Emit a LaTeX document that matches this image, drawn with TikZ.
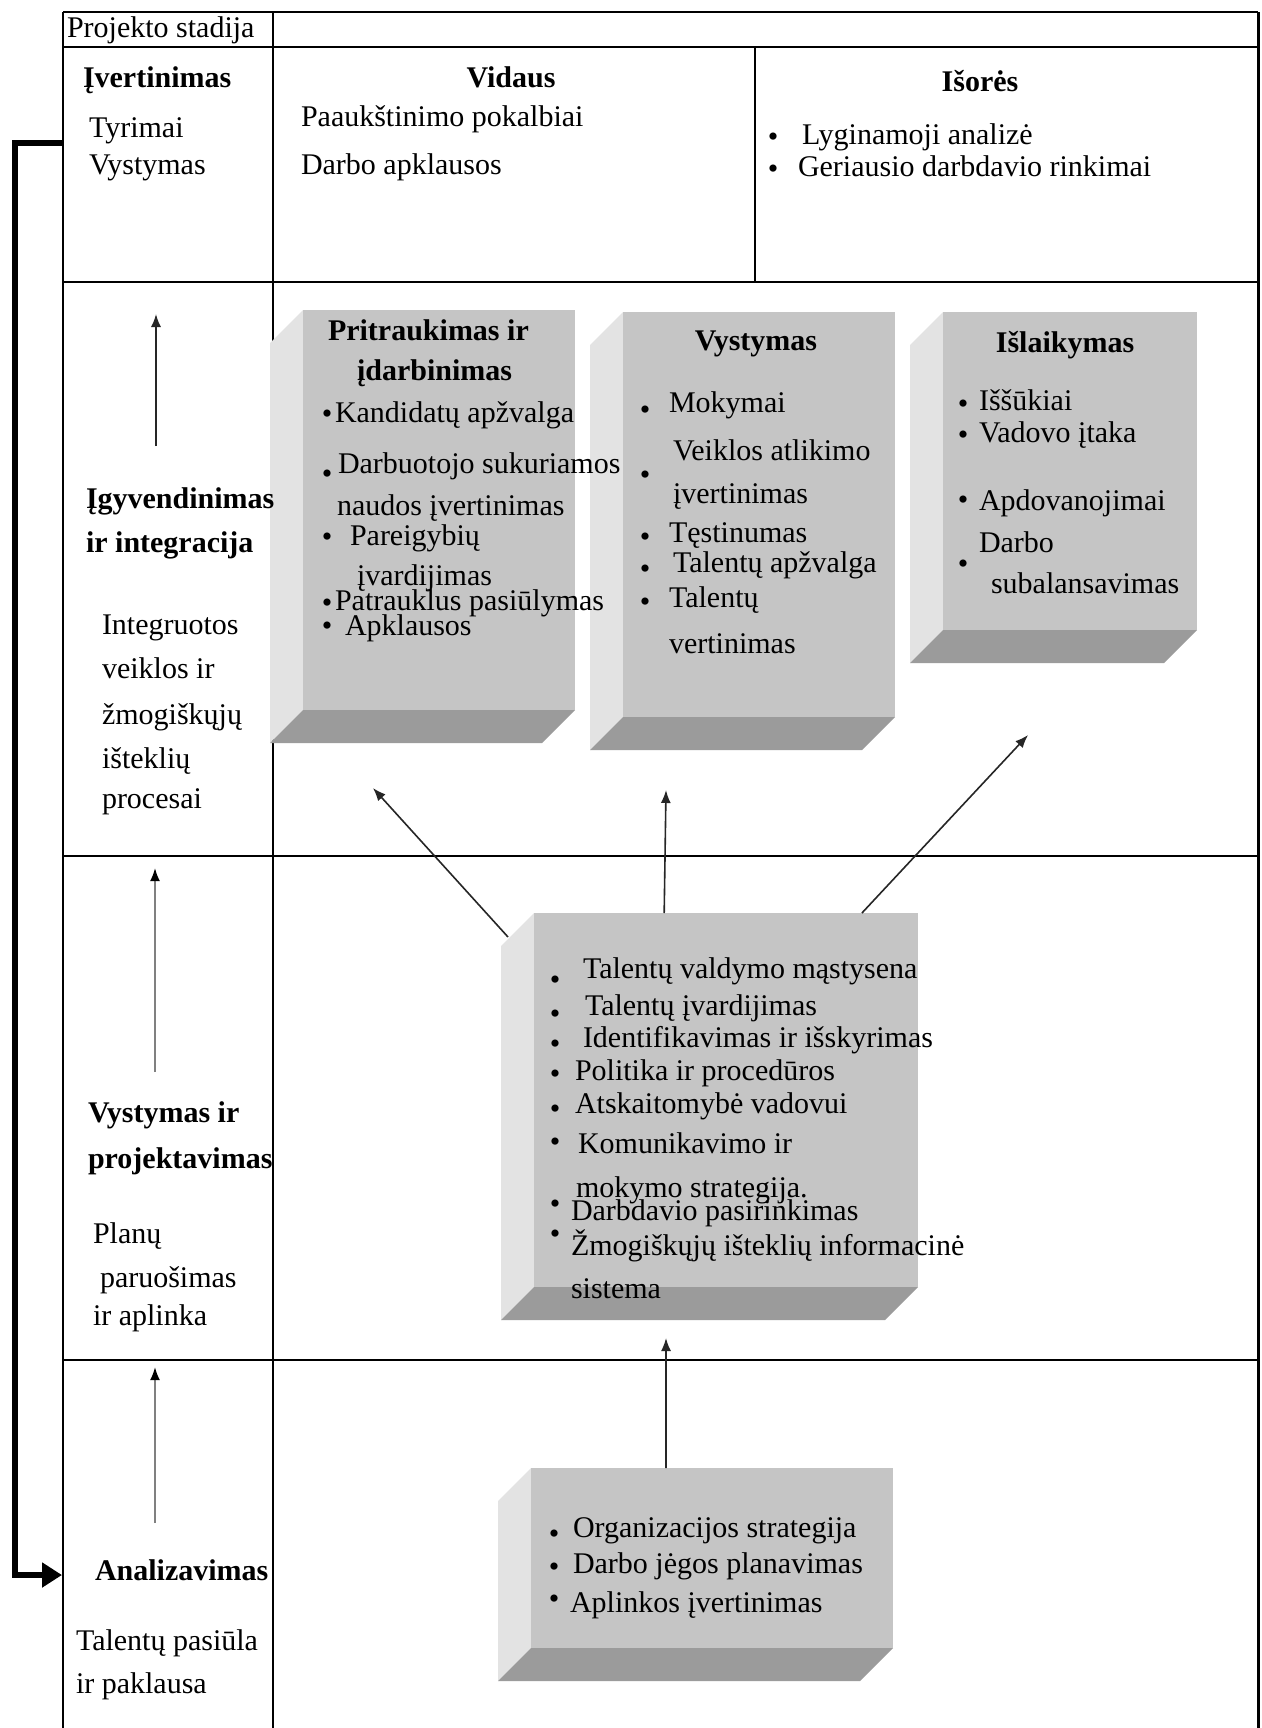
\documentclass[tikz,border=0pt]{standalone}
\usepackage{fontspec}
\setmainfont{Liberation Serif}
\usetikzlibrary{arrows.meta,fit,calc}

\definecolor{facefront}{RGB}{197,197,197}
\definecolor{faceside}{RGB}{227,227,227}
\definecolor{facebottom}{RGB}{155,155,155}
\definecolor{paleshaft}{RGB}{128,128,128}

% Raised block: front face node #1 with corners (#2,#3) and (#4,#5);
% the side and bottom faces are pushed 33 units down and to the left.
\newcommand\raisedblock[5]{%
  \fill[faceside] (#2-33,#3+33) -- (#2,#3) -- (#2,#5) -- (#2-33,#5+33) -- cycle;
  \fill[facebottom] (#2-33,#5+33) -- (#2,#5) -- (#4,#5) -- (#4-33,#5+33) -- cycle;
  \coordinate (#1-nw) at (#2,#3);
  \coordinate (#1-se) at (#4,#5);
  \node[blockface, fit=(#1-nw)(#1-se)] (#1) {};
}

\begin{document}
\begin{tikzpicture}[x=0.5pt,y=-0.5pt,
  every node/.style={inner sep=0pt, outer sep=0pt},
  txt/.style={anchor=base west, font=\fontsize{15}{18}\selectfont},
  bold/.style={anchor=base west, font=\fontsize{15}{18}\selectfont\bfseries},
  boldc/.style={anchor=base, font=\fontsize{15}{18}\selectfont\bfseries},
  bul/.style={anchor=center, yshift=-2.5pt, font=\fontsize{15}{18}\selectfont},
  blockface/.style={fill=facefront, draw=none, inner sep=0pt},
  vrule/.style={line width=1.1pt, black},
  hrule/.style={line width=1.4pt, black},
  arr/.style={line width=0.8pt, black!85, -{Latex[length=6.5pt,width=5pt]}},
  palearr/.style={line width=0.9pt, paleshaft, -{Latex[length=6.5pt,width=5pt,color=black]}},
  looparr/.style={line width=2.6pt, black, line join=miter, -{Triangle[length=10pt,width=12pt]}}
]
\useasboundingbox (0,0) rectangle (1262,1728);
\fill[white] (0,0) rectangle (1262,1728);

% ---- table grid ----
\draw[hrule] (63,12) -- (1258,12);
\draw[hrule] (63,47) -- (1258,47);
\draw[hrule] (63,282) -- (1258,282);
\draw[hrule] (63,856) -- (1258,856);
\draw[hrule] (63,1360) -- (1258,1360);
\draw[vrule] (63,12) -- (63,1728);
\draw[vrule] (273,12) -- (273,1728);
\draw[vrule] (755,47) -- (755,282);
\draw[line width=1.5pt] (1258,12) -- (1258,1728);

% ---- raised blocks ----
\raisedblock{attract}{303}{310}{575}{710}
\raisedblock{develop}{623}{312}{895}{717}
\raisedblock{retain}{943}{312}{1197}{630}
\raisedblock{mindset}{534}{913}{918}{1287}
\raisedblock{strategy}{531}{1468}{893}{1648}

% ---- header row ----
\node[txt] (stage) at (67,38) {Projekto stadija};

% ---- assessment row ----
\node[bold] (assess) at (83,88) {Įvertinimas};
\node[txt] (research) at (89,138) {Tyrimai};
\node[txt] (growth) at (89,175) {Vystymas};
\node[boldc] (inner) at (511,88) {Vidaus};
\node[txt] (promo) at (301,127) {Paaukštinimo pokalbiai};
\node[txt] (survey) at (301,175) {Darbo apklausos};
\node[boldc] (outer) at (980,92) {Išorės};
\node[bul] (bo1) at (773,135) {•};
\node[txt] (bench) at (802,145) {Lyginamoji analizė};
\node[bul] (bo2) at (773,167) {•};
\node[txt] (bestemp) at (798,177) {Geriausio darbdavio rinkimai};

% ---- implementation row ----
\node[bold] (impl1) at (86,508) {Įgyvendinimas};
\node[bold] (impl2) at (86,552) {ir integracija};
\node[txt] (integ1) at (102,634) {Integruotos};
\node[txt] (integ2) at (102,678) {veiklos ir};
\node[txt] (integ3) at (102,724) {žmogiškųjų};
\node[txt] (integ4) at (102,768) {išteklių};
\node[txt] (integ5) at (102,808) {procesai};

% block: attraction
\node[bold] (attr1) at (328,340) {Pritraukimas ir};
\node[bold] (attr2) at (357,380) {įdarbinimas};
\node[bul] (ba1) at (327,412) {•};
\node[txt] (cand) at (335,422) {Kandidatų apžvalga};
\node[bul] (ba2) at (327,472) {•};
\node[txt] (value1) at (338,473) {Darbuotojo sukuriamos};
\node[txt] (value2) at (337,515) {naudos įvertinimas};
\node[bul] (ba3) at (327,535) {•};
\node[txt] (role1) at (350,545) {Pareigybių};
\node[txt] (role2) at (357,585) {įvardijimas};
\node[bul] (ba4) at (327,601) {•};
\node[txt] (offer) at (335,610) {Patrauklus pasiūlymas};
\node[bul] (ba5) at (327,624) {•};
\node[txt] (polls) at (345,635) {Apklausos};

% block: development
\node[boldc] (devhd) at (756,350) {Vystymas};
\node[bul] (bd1) at (645,408) {•};
\node[txt] (train) at (669,412) {Mokymai};
\node[txt] (perf1) at (673,460) {Veiklos atlikimo};
\node[bul] (bd2) at (645,473) {•};
\node[txt] (perf2) at (673,503) {įvertinimas};
\node[bul] (bd3) at (645,535) {•};
\node[txt] (contin) at (669,542) {Tęstinumas};
\node[bul] (bd4) at (645,567) {•};
\node[txt] (talrev) at (673,572) {Talentų apžvalga};
\node[bul] (bd5) at (645,600) {•};
\node[txt] (taleval1) at (669,607) {Talentų};
\node[txt] (taleval2) at (669,653) {vertinimas};

% block: retention
\node[boldc] (rethd) at (1065,352) {Išlaikymas};
\node[bul] (br1) at (963,402) {•};
\node[txt] (chall) at (979,410) {Iššūkiai};
\node[bul] (br2) at (963,433) {•};
\node[txt] (lead) at (979,442) {Vadovo įtaka};
\node[bul] (br3) at (963,498) {•};
\node[txt] (reward) at (979,510) {Apdovanojimai};
\node[txt] (bal1) at (979,552) {Darbo};
\node[bul] (br4) at (963,562) {•};
\node[txt] (bal2) at (991,593) {subalansavimas};

% ---- design row ----
\node[bold] (design1) at (88,1122) {Vystymas ir};
\node[bold] (design2) at (88,1168) {projektavimas};
\node[txt] (plan1) at (93,1243) {Planų};
\node[txt] (plan2) at (100,1287) {paruošimas};
\node[txt] (plan3) at (93,1325) {ir aplinka};

% block: mindset
\node[bul] (bm1) at (555,978) {•};
\node[txt] (mind1) at (583,978) {Talentų valdymo mąstysena};
\node[bul] (bm2) at (555,1012) {•};
\node[txt] (mind2) at (585,1015) {Talentų įvardijimas};
\node[bul] (bm3) at (555,1042) {•};
\node[txt] (mind3) at (583,1047) {Identifikavimas ir išskyrimas};
\node[bul] (bm4) at (555,1072) {•};
\node[txt] (mind4) at (575,1080) {Politika ir procedūros};
\node[bul] (bm5) at (555,1107) {•};
\node[txt] (mind5) at (575,1113) {Atskaitomybė vadovui};
\node[bul] (bm6) at (555,1140) {•};
\node[txt] (mind6) at (578,1153) {Komunikavimo ir};
\node[txt] (mind6b) at (576,1197) {mokymo strategija.};
\node[bul] (bm7) at (555,1202) {•};
\node[txt] (mind7) at (571,1220) {Darbdavio pasirinkimas};
\node[bul] (bm8) at (555,1232) {•};
\node[txt] (mind8) at (571,1255) {Žmogiškųjų išteklių informacinė};
\node[txt] (mind8b) at (571,1298) {sistema};

% ---- analysis row ----
\node[bold] (analysis) at (95,1580) {Analizavimas};
\node[txt] (supply1) at (76,1650) {Talentų pasiūla};
\node[txt] (supply2) at (76,1693) {ir paklausa};

% block: strategy
\node[bul] (bs1) at (554,1532) {•};
\node[txt] (org) at (573,1537) {Organizacijos strategija};
\node[bul] (bs2) at (554,1565) {•};
\node[txt] (workforce) at (573,1573) {Darbo jėgos planavimas};
\node[bul] (bs3) at (554,1597) {•};
\node[txt] (environ) at (570,1612) {Aplinkos įvertinimas};

% ---- connectors ----
% stage arrows in the first column
\coordinate (stageA0) at (156,446);  \coordinate (stageA1) at (156,314);
\coordinate (stageB0) at (155,1072); \coordinate (stageB1) at (155,868);
\coordinate (stageC0) at (155,1523); \coordinate (stageC1) at (155,1367);
\draw[arr] (stageA0) -- (stageA1);
\draw[palearr] (stageB0) -- (stageB1);
\draw[palearr] (stageC0) -- (stageC1);

% feedback loop from assessment back to analysis
\coordinate (loopstart) at (63,143);
\coordinate (loopend) at (62,1575);
\draw[looparr] (loopstart) -- ++(-48,0) |- (loopend);

% from the mindset block up to the three process blocks
\coordinate (tipL) at (373,788);
\coordinate (tipM) at (666,790);
\coordinate (tipR) at (1028,735);
\draw[arr] ($(mindset.north west)+(-26,24)$) -- (tipL);
\draw[arr] ($(mindset.north west)!0.339!(mindset.north east)$) -- (tipM);
\draw[arr] ($(mindset.north west)!0.854!(mindset.north east)$) -- (tipR);

% from the strategy block up to the mindset block
\coordinate (tipB) at (666,1338);
\draw[arr] ($(strategy.north west)!0.373!(strategy.north east)$) -- (tipB);
\end{tikzpicture}
\end{document}
